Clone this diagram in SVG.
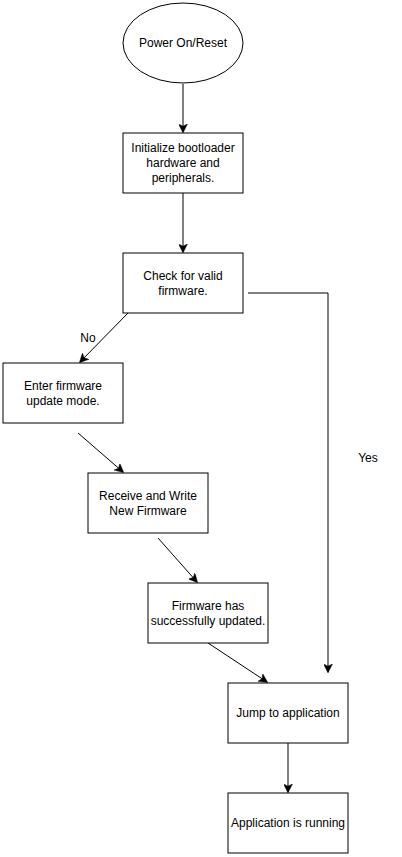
<svg xmlns="http://www.w3.org/2000/svg" width="402" height="857" viewBox="0 0 402 857">
<style>
.n{fill:#fff;stroke:#000;stroke-width:1}
.t{font-family:"Liberation Sans",Arial,sans-serif;font-size:12px;fill:#000;text-anchor:middle}
.c{fill:none;stroke:#000;stroke-width:1}
</style>
<defs>
<marker id="a" viewBox="0 0 10 10" refX="9" refY="5" markerWidth="9" markerHeight="9" markerUnits="userSpaceOnUse" orient="auto">
<path d="M0,0 L10,5 L0,10 L2.5,5 Z" fill="#000" stroke="#000" stroke-width="0.5"/>
</marker>
</defs>
<rect width="402" height="857" fill="#fff"/>
<g id="connectors">
<line class="c" x1="183" y1="84" x2="183" y2="132" marker-end="url(#a)"/>
<line class="c" x1="183" y1="193" x2="183" y2="252" marker-end="url(#a)"/>
<polyline class="c" points="248,293 328,293 328,672" marker-end="url(#a)"/>
<line class="c" x1="128" y1="313" x2="80" y2="362" marker-end="url(#a)"/>
<line class="c" x1="78" y1="433" x2="123" y2="472" marker-end="url(#a)"/>
<line class="c" x1="158" y1="538" x2="197" y2="582" marker-end="url(#a)"/>
<line class="c" x1="208" y1="643" x2="267" y2="682" marker-end="url(#a)"/>
<line class="c" x1="288" y1="743" x2="288" y2="792" marker-end="url(#a)"/>
<text class="t" x="88" y="342">No</text>
<text class="t" x="368" y="462">Yes</text>
</g>
<g id="power">
<ellipse class="n" cx="183" cy="43" rx="60" ry="40"/>
<text class="t" x="183" y="47">Power On/Reset</text>
</g>
<g id="init">
<rect class="n" x="123" y="133" width="120" height="60"/>
<text class="t" x="183" y="152">Initialize bootloader</text>
<text class="t" x="183" y="167">hardware and</text>
<text class="t" x="183" y="182">peripherals.</text>
</g>
<g id="check">
<rect class="n" x="123" y="253" width="120" height="60"/>
<text class="t" x="183" y="280">Check for valid</text>
<text class="t" x="183" y="295">firmware.</text>
</g>
<g id="enter">
<rect class="n" x="3" y="363" width="120" height="60"/>
<text class="t" x="63" y="390">Enter firmware</text>
<text class="t" x="63" y="405">update mode.</text>
</g>
<g id="receive">
<rect class="n" x="88" y="473" width="120" height="60"/>
<text class="t" x="148" y="500">Receive and Write</text>
<text class="t" x="148" y="515">New Firmware</text>
</g>
<g id="updated">
<rect class="n" x="148" y="583" width="120" height="60"/>
<text class="t" x="208" y="610">Firmware has</text>
<text class="t" x="208" y="625">successfully updated.</text>
</g>
<g id="jump">
<rect class="n" x="228" y="683" width="120" height="60"/>
<text class="t" x="288" y="717">Jump to application</text>
</g>
<g id="running">
<rect class="n" x="228" y="793" width="120" height="60"/>
<text class="t" x="288" y="827">Application is running</text>
</g>
</svg>
